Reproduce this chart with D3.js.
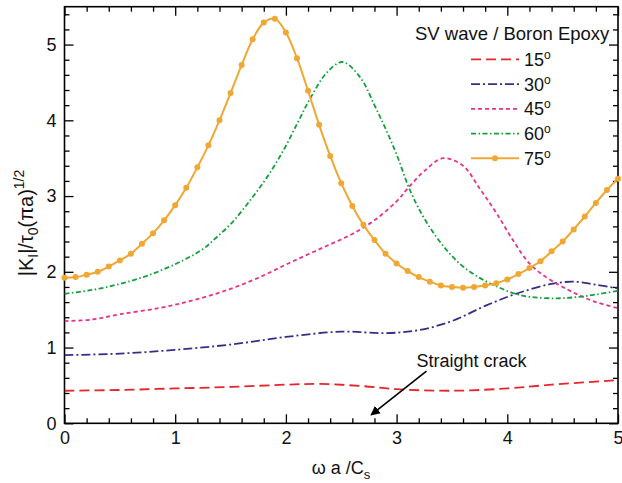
<!DOCTYPE html>
<html>
<head>
<meta charset="utf-8">
<script src="https://cdn.jsdelivr.net/npm/d3@7"></script>
<style>
  body { margin: 0; background: #fff; }
  text { font-family: Arial, "Liberation Sans", Helvetica, sans-serif; }
</style>
</head>
<body>
<div id="chart"></div>
<script>
// tick values
var xTicks = [0, 1, 2, 3, 4, 5];
var yTicks = [0, 1, 2, 3, 4, 5];

// series: 15 deg
var x15 = [0, 0.5, 1.0, 1.5, 2.0, 2.3, 2.7, 3.0, 3.5, 4.0, 4.4, 5.0];
var y15 = [0.43, 0.44, 0.46, 0.48, 0.51, 0.52, 0.49, 0.45, 0.43, 0.46, 0.51, 0.57];

// 30 deg
var x30 = [0, 0.5, 1.0, 1.5, 2.0, 2.5, 2.9, 3.2, 3.5, 3.8, 4.1, 4.4, 4.6, 4.8, 5.0];
var y30 = [0.90, 0.92, 0.97, 1.04, 1.14, 1.21, 1.19, 1.23, 1.35, 1.55, 1.72, 1.84, 1.87, 1.83, 1.78];

// 45 deg
var x45 = [0, 0.25, 0.5, 0.85, 1.15, 1.45, 1.75, 2.05, 2.35, 2.6, 2.8, 3.0, 3.1, 3.25, 3.42, 3.6, 3.75, 3.9, 4.05, 4.2, 4.35, 4.5, 4.65, 4.8, 5.0];
var y45 = [1.35, 1.37, 1.44, 1.52, 1.62, 1.75, 1.92, 2.13, 2.33, 2.50, 2.68, 2.93, 3.10, 3.33, 3.50, 3.40, 3.10, 2.78, 2.42, 2.11, 1.93, 1.80, 1.69, 1.60, 1.52];

// 60 deg
var x60 = [0, 0.25, 0.5, 0.77, 1.07, 1.25, 1.37, 1.52, 1.68, 1.83, 1.98, 2.11, 2.22, 2.37, 2.51, 2.67, 2.8, 2.9, 3.0, 3.12, 3.24, 3.36, 3.48, 3.6, 3.75, 3.9, 4.05, 4.2, 4.45, 4.65, 4.8, 5.0];
var y60 = [1.71, 1.76, 1.84, 1.96, 2.15, 2.30, 2.45, 2.66, 2.95, 3.25, 3.61, 3.98, 4.29, 4.63, 4.77, 4.57, 4.20, 3.89, 3.55, 3.08, 2.73, 2.46, 2.24, 2.07, 1.92, 1.81, 1.72, 1.67, 1.65, 1.67, 1.70, 1.75];

// 75 deg (with markers)
var x75 = [0, 0.1, 0.2, 0.3, 0.4, 0.5, 0.6, 0.7, 0.8, 0.9, 1.0, 1.1, 1.2, 1.3, 1.4, 1.5, 1.6, 1.7, 1.8, 1.9, 2.0, 2.1, 2.2, 2.3, 2.4, 2.5,
           2.6, 2.7, 2.8, 2.9, 3.0, 3.1, 3.2, 3.3, 3.4, 3.5, 3.6, 3.7, 3.8, 3.9, 4.0, 4.1, 4.2, 4.3, 4.4, 4.5, 4.6, 4.7, 4.8, 4.9, 5.0];
var y75 = [1.92, 1.93, 1.96, 2.00, 2.07, 2.15, 2.24, 2.37, 2.51, 2.68, 2.88, 3.11, 3.38, 3.67, 4.00, 4.36, 4.73, 5.07, 5.29, 5.34, 5.16, 4.82, 4.39, 3.94, 3.53, 3.17,
           2.87, 2.62, 2.42, 2.24, 2.11, 2.01, 1.93, 1.87, 1.82, 1.80, 1.79, 1.80, 1.82, 1.85, 1.90, 1.97, 2.05, 2.14, 2.27, 2.40, 2.56, 2.73, 2.91, 3.08, 3.23];

var angleLabels = ["15", "30", "45", "60", "75"];
var seriesColors = ["#e3262d", "#3b2b88", "#e8318a", "#16a03b", "#f0a733"];
var seriesDash = ["10,5", "9,3,2,3", "4,3", "5,2.5,1.5,2.5", null];

var w = 622, h = 483;
var margin = {top: 6.7, right: 4, bottom: 59.7, left: 64.5};
var iw = w - margin.left - margin.right,
    ih = h - margin.top - margin.bottom;

var svg = d3.select("#chart").append("svg")
    .attr("width", w)
    .attr("height", h);

var g = svg.append("g")
    .attr("transform", "translate(" + margin.left + "," + margin.top + ")");

var xScale = d3.scaleLinear().domain([0, 5]).range([0, iw]);
var yScale = d3.scaleLinear().domain([0, 5.5]).range([ih, 0]);

// minor ticks (every 0.2)
var xMinor = d3.range(0, 5.001, 0.2).filter(function (d) { return Math.abs(d - Math.round(d)) > 1e-6; });
var yMinor = d3.range(0, 5.501, 0.2).filter(function (d) { return Math.abs(d - Math.round(d)) > 1e-6; });

function styleAxis(sel) {
    sel.select(".domain").remove();
    sel.selectAll("line").attr("stroke", "#000").attr("stroke-width", 1.3);
    sel.selectAll("text").attr("font-size", 18).attr("fill", "#111")
        .style("font-family", "Arial, 'Liberation Sans', sans-serif");
}

// bottom
g.append("g").attr("transform", "translate(0," + ih + ")")
    .call(d3.axisBottom(xScale).tickValues(xTicks).tickSize(-9).tickPadding(8).tickFormat(d3.format("d")))
    .call(styleAxis);
g.append("g").attr("transform", "translate(0," + ih + ")")
    .call(d3.axisBottom(xScale).tickValues(xMinor).tickSize(-5).tickFormat(""))
    .call(styleAxis);
// top
g.append("g")
    .call(d3.axisTop(xScale).tickValues(xTicks).tickSize(-9).tickFormat(""))
    .call(styleAxis);
g.append("g")
    .call(d3.axisTop(xScale).tickValues(xMinor).tickSize(-5).tickFormat(""))
    .call(styleAxis);
// left
g.append("g")
    .call(d3.axisLeft(yScale).tickValues(yTicks).tickSize(-9).tickPadding(8).tickFormat(d3.format("d")))
    .call(styleAxis);
g.append("g")
    .call(d3.axisLeft(yScale).tickValues(yMinor).tickSize(-5).tickFormat(""))
    .call(styleAxis);
// right
g.append("g").attr("transform", "translate(" + iw + ",0)")
    .call(d3.axisRight(yScale).tickValues(yTicks).tickSize(-9).tickFormat(""))
    .call(styleAxis);
g.append("g").attr("transform", "translate(" + iw + ",0)")
    .call(d3.axisRight(yScale).tickValues(yMinor).tickSize(-5).tickFormat(""))
    .call(styleAxis);

// frame
g.append("rect")
    .attr("width", iw).attr("height", ih)
    .attr("fill", "none").attr("stroke", "#000").attr("stroke-width", 1.6);

// curves
var allX = [x15, x30, x45, x60, x75];
var allY = [y15, y30, y45, y60, y75];

var line = d3.line()
    .x(function (d) { return xScale(d[0]); })
    .y(function (d) { return yScale(d[1]); })
    .curve(d3.curveCatmullRom.alpha(0.5));

g.append("clipPath").attr("id", "clip")
    .append("rect").attr("width", iw).attr("height", ih);

for (var i = 0; i < 5; i++) {
    var pts = allX[i].map(function (x, j) { return [x, allY[i][j]]; });
    g.append("path")
        .datum(pts)
        .attr("d", line)
        .attr("fill", "none")
        .attr("stroke", seriesColors[i])
        .attr("stroke-width", i == 4 ? 2 : 1.8)
        .attr("stroke-dasharray", seriesDash[i])
        .attr("clip-path", "url(#clip)");
    if (i == 4) {
        g.selectAll("circle.m75")
            .data(pts)
            .enter().append("circle")
            .attr("class", "m75")
            .attr("cx", function (d) { return xScale(d[0]); })
            .attr("cy", function (d) { return yScale(d[1]); })
            .attr("r", 3)
            .attr("fill", seriesColors[4]);
    }
}

// legend
var legend = svg.append("g");
legend.append("text")
    .attr("x", 415).attr("y", 39.5)
    .attr("font-size", 18.5)
    .attr("fill", "#111")
    .text("SV wave / Boron Epoxy");

angleLabels.forEach(function (lab, i) {
    var ly = 59.3 + i * 24.75;
    legend.append("line")
        .attr("x1", 471).attr("x2", 519)
        .attr("y1", ly).attr("y2", ly)
        .attr("stroke", seriesColors[i])
        .attr("stroke-width", i == 4 ? 2 : 1.8)
        .attr("stroke-dasharray", seriesDash[i]);
    if (i == 4) {
        legend.append("circle").attr("cx", 495).attr("cy", ly).attr("r", 3).attr("fill", seriesColors[4]);
    }
    var t = legend.append("text")
        .attr("x", 524).attr("y", ly + 6.5)
        .attr("font-size", 18)
        .attr("fill", "#111");
    t.append("tspan").text(lab);
    t.append("tspan").attr("dy", -7).attr("font-size", 12).text("o");
});

// annotation: straight crack
var annX = [3.27, 2.77], annY = [0.69, 0.11];
svg.append("defs").append("marker")
    .attr("id", "arrow")
    .attr("viewBox", "0 0 10 10")
    .attr("refX", 9).attr("refY", 5)
    .attr("markerWidth", 6).attr("markerHeight", 6)
    .attr("markerUnits", "strokeWidth")
    .attr("orient", "auto")
    .append("path").attr("d", "M0,0 L10,5 L0,10 z").attr("fill", "#000");

g.append("line")
    .attr("x1", xScale(annX[0])).attr("y1", yScale(annY[0]))
    .attr("x2", xScale(annX[1])).attr("y2", yScale(annY[1]))
    .attr("stroke", "#000").attr("stroke-width", 1.6)
    .attr("marker-end", "url(#arrow)");

g.append("text")
    .attr("x", xScale(3.18)).attr("y", yScale(0.74))
    .attr("font-size", 18)
    .attr("fill", "#111")
    .text("Straight crack");

// axis titles
var xt = svg.append("text")
    .attr("x", 341).attr("y", 474)
    .attr("text-anchor", "middle")
    .attr("font-size", 18)
    .attr("fill", "#111");
xt.append("tspan").text("\u03C9 a /C");
xt.append("tspan").attr("dy", 5).attr("font-size", 13).text("s");

var yt = svg.append("text")
    .attr("transform", "translate(33,223) rotate(-90)")
    .attr("text-anchor", "middle")
    .attr("font-size", 20)
    .attr("fill", "#111");
yt.append("tspan").text("|K");
yt.append("tspan").attr("dy", 5).attr("font-size", 14).text("I");
yt.append("tspan").attr("dy", -5).text("|/\u03C4");
yt.append("tspan").attr("dy", 5).attr("font-size", 14).text("0");
yt.append("tspan").attr("dy", -5).text("(\u03C0a)");
yt.append("tspan").attr("dy", -9).attr("font-size", 14).text("1/2");
</script>
</body>
</html>
